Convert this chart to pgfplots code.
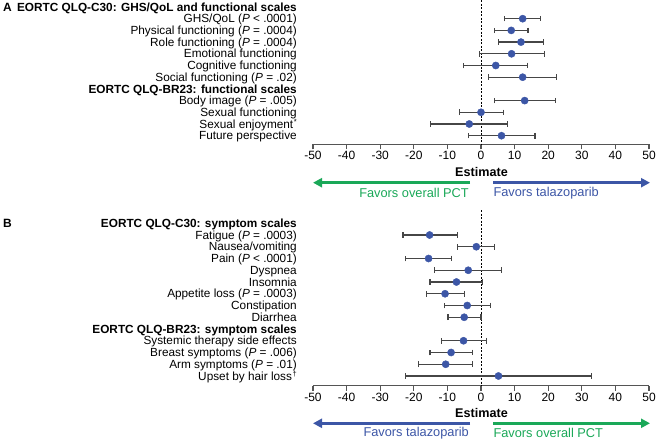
\documentclass[border=0pt]{standalone}
\usepackage{fontspec}
\setmainfont{Liberation Sans}
\usepackage{pgfplots}
\pgfplotsset{compat=1.18}
\usepackage{pgfplotstable}
\usetikzlibrary{arrows.meta}
\definecolor{ptblue}{RGB}{60,86,166}
\definecolor{ptgreen}{RGB}{26,168,88}
\definecolor{ebgray}{RGB}{70,70,70}
\definecolor{axgray}{RGB}{85,85,85}
\newcommand{\supmark}[1]{\kern0.6pt\raisebox{3.6pt}{\fontsize{7.5}{8}\selectfont #1}}

\pgfplotstableread{
row est lo hi
0 12.4 6.9 17.6
-1 9.0 4.0 14.0
-2 11.9 5.3 18.6
-3 9.1 -0.5 18.9
-4 4.4 -5.3 13.9
-5 12.4 2.3 22.5
-7 13.0 3.9 22.1
-8 0.0 -6.4 6.8
-9 -3.5 -15.0 7.8
-10 6.1 -3.8 16.1
}\dataA

\pgfplotstableread{
row est lo hi
0 -15.3 -23.2 -7.1
-1 -1.4 -7.1 4.0
-2 -15.6 -22.5 -8.7
-3 -3.8 -13.9 6.2
-4 -7.3 -15.2 0.4
-5 -10.7 -16.3 -4.9
-6 -4.1 -10.8 2.8
-7 -5.0 -9.8 0.0
-9 -5.2 -11.8 1.7
-10 -8.9 -15.2 -2.6
-11 -10.5 -18.6 -2.6
-12 5.2 -22.5 32.9
}\dataB

\pgfplotsset{forest/.style={
  scale only axis, width=336pt, xmin=-50, xmax=50, clip=false,
  axis x line*=bottom, axis y line*=left,
  x axis line style={axgray, line width=1.2pt, -},
  y axis line style={draw=none},
  ytick style={draw=none},
  xtick={-50,-40,...,50},
  xticklabels={-50,-40,-30,-20,-10,0,10,20,30,40,50},
  xtick style={axgray, line width=1.2pt},
  tick align=outside, major tick length=5pt,
  xticklabel style={font=\fontsize{12}{14}\selectfont, inner sep=0pt, anchor=north, yshift=-2pt},
  yticklabel style={font=\fontsize{11.8}{13}\selectfont, inner sep=0pt, anchor=base east, yshift=-4.2pt, xshift=-11pt},
}}
\pgfplotsset{ebars/.style={forget plot, only marks, mark=none,
  error bars/.cd, x dir=both, x explicit, error mark=|,
  error bar style={ebgray, line width=1.2pt},
  error mark options={ebgray, line width=1.2pt, mark size=2.8pt}}}
\pgfplotsset{dots/.style={only marks, mark=*, mark size=3.6pt, color=ptblue, mark options={draw=ptblue, fill=ptblue}}}

\begin{document}
\begin{tikzpicture}
\useasboundingbox (0,0) rectangle (656pt,440pt);

% Panel A
\begin{axis}[forest, at={(313pt,295.7pt)}, anchor=south west, height=144.3pt,
  ymin=-10.735, ymax=1.598,
  ytick={1,0,-1,-2,-3,-4,-5,-6,-7,-8,-9,-10},
  yticklabels={
    {\textbf{EORTC QLQ-C30: GHS/QoL and functional scales}},
    {GHS/QoL (\textit{P} < .0001)},
    {Physical functioning (\textit{P} = .0004)},
    {Role functioning (\textit{P} = .0004)},
    {Emotional functioning},
    {Cognitive functioning},
    {Social functioning (\textit{P} = .02)},
    {\textbf{EORTC QLQ-BR23: functional scales}},
    {Body image (\textit{P} = .005)},
    {Sexual functioning},
    {Sexual enjoyment\supmark{*}},
    {Future perspective}},
]
\addplot[forget plot, black, line width=0.8pt, dash pattern=on 2pt off 1.5pt] coordinates {(0,1.598) (0,-10.735)};
\addplot[ebars] table[x=est, y=row, x error plus expr=\thisrow{hi}-\thisrow{est}, x error minus expr=\thisrow{est}-\thisrow{lo}] {\dataA};
\addplot[dots] table[x=est, y=row] {\dataA};
\end{axis}

% Panel B
\begin{axis}[forest, at={(313pt,54.3pt)}, anchor=south west, height=175.7pt,
  ymin=-12.826, ymax=2.128,
  ytick={1,0,-1,-2,-3,-4,-5,-6,-7,-8,-9,-10,-11,-12},
  yticklabels={
    {\textbf{EORTC QLQ-C30: symptom scales}},
    {Fatigue (\textit{P} = .0003)},
    {Nausea/vomiting},
    {Pain (\textit{P} < .0001)},
    {Dyspnea},
    {Insomnia},
    {Appetite loss (\textit{P} = .0003)},
    {Constipation},
    {Diarrhea},
    {\textbf{EORTC QLQ-BR23: symptom scales}},
    {Systemic therapy side effects},
    {Breast symptoms (\textit{P} = .006)},
    {Arm symptoms (\textit{P} = .01)},
    {Upset by hair loss\supmark{\textdagger}}},
]
\addplot[forget plot, black, line width=0.8pt, dash pattern=on 2pt off 1.5pt] coordinates {(0,2.128) (0,-12.826)};
\addplot[ebars] table[x=est, y=row, x error plus expr=\thisrow{hi}-\thisrow{est}, x error minus expr=\thisrow{est}-\thisrow{lo}] {\dataB};
\addplot[dots] table[x=est, y=row] {\dataB};
\end{axis}

% panel letters
\node[anchor=west, inner sep=0pt, font=\fontsize{12}{14}\selectfont\bfseries] at (3pt,433pt) {A};
\node[anchor=west, inner sep=0pt, font=\fontsize{12}{14}\selectfont\bfseries] at (3pt,217pt) {B};

% Estimate labels
\node[font=\fontsize{12.6}{14}\selectfont\bfseries] at (481.5pt,267.7pt) {Estimate};
\node[font=\fontsize{12.6}{14}\selectfont\bfseries] at (481.5pt,26.7pt) {Estimate};

% Arrows A
\draw[ptgreen, line width=2.5pt, -{Triangle[length=9pt,width=9pt]}] (470pt,257.3pt) -- (313pt,257.3pt);
\draw[ptblue, line width=2.5pt, -{Triangle[length=9pt,width=9pt]}] (493.3pt,257.3pt) -- (650pt,257.3pt);
\node[anchor=east, inner sep=0pt, text=ptgreen, font=\fontsize{12.8}{14}\selectfont] at (469pt,247pt) {Favors overall PCT};
\node[anchor=west, inner sep=0pt, text=ptblue, font=\fontsize{12.8}{14}\selectfont] at (493.3pt,247pt) {Favors talazoparib};

% Arrows B
\draw[ptblue, line width=2.5pt, -{Triangle[length=9pt,width=9pt]}] (470pt,16.7pt) -- (313pt,16.7pt);
\draw[ptgreen, line width=2.5pt, -{Triangle[length=9pt,width=9pt]}] (493.3pt,16.7pt) -- (650pt,16.7pt);
\node[anchor=east, inner sep=0pt, text=ptblue, font=\fontsize{12.8}{14}\selectfont] at (469pt,7.3pt) {Favors talazoparib};
\node[anchor=west, inner sep=0pt, text=ptgreen, font=\fontsize{12.8}{14}\selectfont] at (493.3pt,7.3pt) {Favors overall PCT};
\end{tikzpicture}
\end{document}
